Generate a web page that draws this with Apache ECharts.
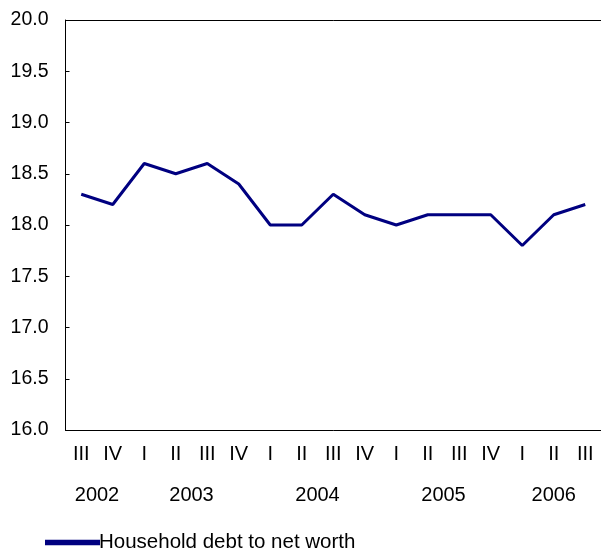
<!DOCTYPE html>
<html>
<head>
<meta charset="utf-8">
<script src="https://cdn.jsdelivr.net/npm/echarts@6/dist/echarts.min.js"></script>
<style>
html,body{margin:0;padding:0;background:#fff;}
#c{width:601px;height:554px;}
</style>
</head>
<body>
<div id="c"></div>
<script>
var quarters = ['III','IV','I','II','III','IV','I','II','III','IV','I','II','III','IV','I','II','III'];
var quarterYears = ['2002','2002','2003','2003','2003','2003','2004','2004','2004','2004','2005','2005','2005','2005','2006','2006','2006'];
var years = ['2002','2003','2004','2005','2006'];
var debtToNetWorth = [18.3,18.2,18.6,18.5,18.6,18.4,18.0,18.0,18.3,18.1,18.0,18.1,18.1,18.1,17.8,18.1,18.2];
var seriesName = 'Household debt to net worth';

// centers of year groups along the category axis (in category units)
var yearCenters = years.map(function(y){
  var first = quarterYears.indexOf(y), last = quarterYears.lastIndexOf(y);
  return (first + last + 1) / 2;
});

var FONT = 'Liberation Sans, Arial, sans-serif';
var chart = echarts.init(document.getElementById('c'));
chart.setOption({
  animation: false,
  backgroundColor: '#fff',
  grid: {left: 65.5, top: 20, width: 537, height: 410},
  legend: {
    show: true, left: 40, top: 527, itemWidth: 55, itemHeight: 12, itemGap: 0,
    textStyle: {fontFamily: FONT, fontSize: 20.5, color: '#000', padding: [0,0,0,-6]},
    data: [{name: seriesName, icon: 'path://M0,0 L10,0 L10,1 L0,1 Z'}]
  },
  xAxis: [{
    type: 'category', data: quarters, boundaryGap: true, position: 'bottom',
    axisLine: {lineStyle: {color: '#000', width: 1}},
    axisTick: {inside: true, length: 4, lineStyle: {color: '#000'}},
    axisLabel: {fontFamily: FONT, fontSize: 20, color: '#000', margin: 14, interval: 0},
    splitLine: {show: false}
  }, {
    type: 'value', min: 0, max: quarters.length, position: 'bottom', offset: 41,
    axisLine: {show: false}, axisTick: {show: false}, splitLine: {show: false},
    axisLabel: {
      fontFamily: FONT, fontSize: 20, color: '#000', margin: 14,
      customValues: yearCenters, showMinLabel: true, showMaxLabel: true,
      formatter: function(v){
        for (var i = 0; i < yearCenters.length; i++) if (Math.abs(yearCenters[i]-v) < 1e-6) return years[i];
        return '';
      }
    }
  }, {
    type: 'category', data: quarters, position: 'top',
    axisLine: {show: true, lineStyle: {color: '#000', width: 1}},
    axisTick: {show: false}, axisLabel: {show: false}, splitLine: {show: false}
  }],
  yAxis: {
    type: 'value', min: 16, max: 20, interval: 0.5,
    axisLine: {show: true, lineStyle: {color: '#000', width: 1}},
    axisTick: {show: true, inside: true, length: 4, lineStyle: {color: '#000'}},
    axisLabel: {fontFamily: FONT, fontSize: 19.5, color: '#000', margin: 17, formatter: function(v){return v.toFixed(1);}},
    splitLine: {show: false}
  },
  series: [{
    name: seriesName, type: 'line', xAxisIndex: 0, data: debtToNetWorth,
    symbol: 'none', lineStyle: {color: '#000080', width: 3}, itemStyle: {color: '#000080'}
  }]
});
</script>
</body>
</html>
